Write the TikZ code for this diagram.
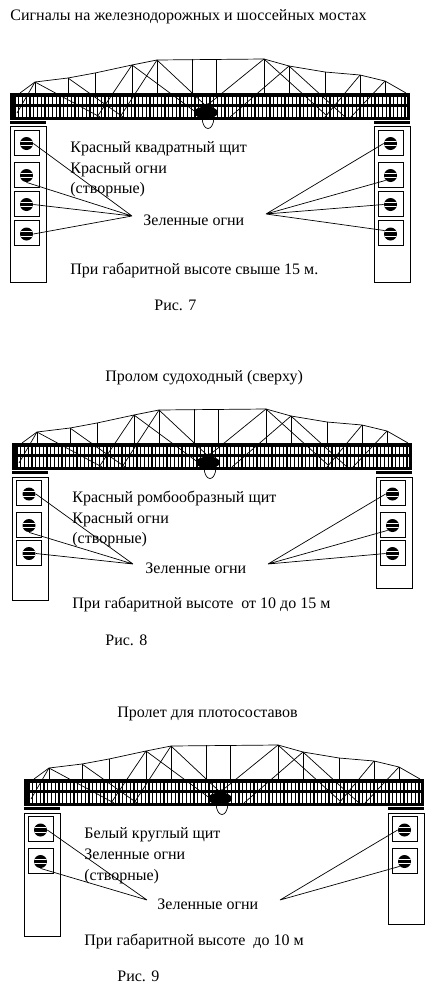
\documentclass[tikz,border=0pt]{standalone}
\usepackage{fontspec}
\setmainfont{Liberation Serif}
\usetikzlibrary{positioning}

% one bridge span, coordinates in pixels of the first figure
\newcommand{\bridgespan}[2]{%
  \begin{scope}[shift={(#1,#2)}]
    \draw[truss] (20,93) -- (35,82) -- (68,78) -- (95,73) -- (132,65) -- (157,60) -- (264,59)
      -- (289,66) -- (325,72) -- (360,75) -- (385,81) -- (406,93);
    \foreach \x/\y in {35/82, 68/78, 95/73, 132/65, 157/60, 192/59, 216/59, 264/59, 289/66, 325/72, 360/75, 385/81}
      \draw[truss] (\x,\y) -- (\x,93);
    \draw[truss] (35,82) -- (17,113) (35,82) -- (100,117) (68,78) -- (123,117);
    \draw[truss] (132,65) -- (197,113) (132,65) -- (97,117);
    \draw[truss] (157,60) -- (205,105) (157,60) -- (120,117);
    \draw[truss] (264,59) -- (205,107) (264,59) -- (326,115);
    \draw[truss] (289,66) -- (230,117) (289,66) -- (345,117);
    \draw[truss] (360,75) -- (325,117) (385,81) -- (351,117);
    \foreach \x in {15,18.75,...,405}
      \draw[rod] (\x,96) -- (\x,117);
    \fill (10,93) rectangle (410,96.5);
    \fill (10,104.3) rectangle (410,107.3);
    \fill (10,116.7) rectangle (410,120);
    \fill (10,93) rectangle (13.5,120);
    \fill (406.5,93) rectangle (410,120);
    \fill (206,112.5) ellipse [x radius=12, y radius=6];
    \fill (203,108) -- (208,103) -- (213,108) -- cycle;
    \draw[truss] (202,118) .. controls (203,132) and (213,132) .. (214,118);
  \end{scope}}

\begin{document}
\begin{tikzpicture}[x=1pt, y=-1pt, line width=0.8pt,
      truss/.style={line width=0.7pt},
      rod/.style={line width=1.2pt},
      lbl/.style={anchor=base west, inner sep=0pt, font=\fontsize{16}{18}\selectfont},
      pier/.style={draw, anchor=north west, inner sep=0pt, minimum width=36.5, minimum height=#1},
      sigbox/.style={draw, fill=white, inner sep=0pt, minimum size=25},
      lamp/.style={circle, fill=black, inner sep=0pt, minimum size=13, yshift=-1,
        path picture={\draw[white, line width=1.3pt] (-8,2.2) -- (8,2.2) (-8,-2.2) -- (8,-2.2);}}]
    \useasboundingbox (0,0) rectangle (426,996);
    \fill[white] (0,0) rectangle (426,996);

    % figure 7
    \node[lbl] (title7) at (10,20) {Сигналы на железнодорожных и шоссейных мостах};
    \bridgespan{0}{0}
    \fill (10,121) rectangle (46,124);
    \fill (374,121) rectangle (410,124);
    \node[pier=156] (pierA) at (9.5,126) {};
    \node[pier=156] (pierB) at (373.5,126) {};
    \foreach \n/\a/\b/\y in {1/26.5/390.5/142.5, 2/26.5/390.5/174.5, 3/26.5/390.5/203.5, 4/26.5/390.5/233}{
      \node[sigbox] (sa\n) at (\a,\y) {};
      \node[lamp] (la\n) at (\a,\y) {};
      \node[sigbox] (sb\n) at (\b,\y) {};
      \node[lamp] (lb\n) at (\b,\y) {};
    }
    \coordinate (goA) at (132,216);
    \coordinate (goB) at (266,214);
    \draw[truss] (goA) -- (la1.east) (goA) -- (la2.south) (goA) -- (la3.east) (goA) -- (la4.east);
    \draw[truss] (goB) -- (lb1.west) (goB) -- (lb2.225) (goB) -- (lb3.west) (goB) -- (lb4.150);
    \node[lbl] (shield7) at (70,152) {Красный квадратный щит};
    \node[lbl] (red7) at (70,173) {Красный огни};
    \node[lbl] (ctr7) at (70,193) {(створные)};
    \node[lbl] (green7) at (143,225) {Зеленные огни};
    \node[lbl] (high7) at (70,274) {При габаритной высоте свыше 15 м.};
    \node[lbl] (fig7) at (154,310) {Рис. 7};

    % figure 8
    \node[lbl] (title8) at (105,381) {Пролом судоходный (сверху)};
    \bridgespan{2}{350}
    \fill (12,471) rectangle (48,474);
    \fill (376,471) rectangle (412,474);
    \node[pier=123] (pierC) at (11.5,477) {};
    \node[pier=111] (pierD) at (375.5,477) {};
    \foreach \n/\a/\b/\y in {1/29/392.5/493, 2/29/392.5/524.5, 3/29/392.5/552.5}{
      \node[sigbox] (sc\n) at (\a,\y) {};
      \node[lamp] (lc\n) at (\a,\y) {};
      \node[sigbox] (sd\n) at (\b,\y) {};
      \node[lamp] (ld\n) at (\b,\y) {};
    }
    \coordinate (goC) at (133,564);
    \coordinate (goD) at (268,564);
    \draw[truss] (goC) -- (lc1.east) (goC) -- (lc2.south) (goC) -- (lc3.east);
    \draw[truss] (goD) -- (ld1.west) (goD) -- (ld2.225) (goD) -- (ld3.west);
    \node[lbl] (shield8) at (72,502) {Красный ромбообразный щит};
    \node[lbl] (red8) at (72,523) {Красный огни};
    \node[lbl] (ctr8) at (72,543) {(створные)};
    \node[lbl] (green8) at (145,573) {Зеленные огни};
    \node[lbl] (high8) at (72,608) {При габаритной высоте\ \ от 10 до 15 м};
    \node[lbl] (fig8) at (105,645) {Рис. 8};

    % figure 9
    \node[lbl] (title9) at (117,717) {Пролет для плотосоставов};
    \bridgespan{14}{686}
    \fill (24,807) rectangle (60,810);
    \fill (388,807) rectangle (424,810);
    \node[pier=123] (pierE) at (23.5,813) {};
    \node[pier=111] (pierF) at (387.5,813) {};
    \foreach \n/\a/\b/\y in {1/40.5/404.5/829, 2/40.5/404.5/860.5}{
      \node[sigbox] (se\n) at (\a,\y) {};
      \node[lamp] (le\n) at (\a,\y) {};
      \node[sigbox] (sf\n) at (\b,\y) {};
      \node[lamp] (lf\n) at (\b,\y) {};
    }
    \coordinate (goE) at (147,900);
    \coordinate (goF) at (280,900);
    \draw[truss] (goE) -- (le1.east) (goE) -- (le2.south);
    \draw[truss] (goF) -- (lf1.west) (goF) -- (lf2.225);
    \node[lbl] (shield9) at (84,838) {Белый круглый щит};
    \node[lbl] (green9a) at (84,859) {Зеленные огни};
    \node[lbl] (ctr9) at (84,880) {(створные)};
    \node[lbl] (green9b) at (157,909) {Зеленные огни};
    \node[lbl] (high9) at (84,945) {При габаритной высоте\ \ до 10 м};
    \node[lbl] (fig9) at (117,981) {Рис. 9};
\end{tikzpicture}
\end{document}
